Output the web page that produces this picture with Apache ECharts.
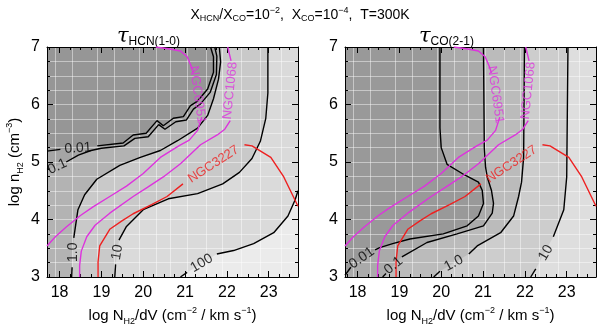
<!DOCTYPE html>
<html>
<head>
<meta charset="utf-8">
<script src="https://cdn.jsdelivr.net/npm/echarts@6/dist/echarts.min.js"></script>
<style>
  html, body { margin: 0; padding: 0; background: #fff; }
  #chart { width: 600px; height: 331px; }
</style>
</head>
<body>
<div id="chart"></div>
<script>
// --- axis extents and ticks ---
const xMin = 17.7, xMax = 23.7, yMin = 3, yMax = 7;
const xTicks = [18, 19, 20, 21, 22, 23];
const xMinorTicks = [17.75, 18.25, 18.5, 18.75, 19.25, 19.5, 19.75, 20.25, 20.5, 20.75,
  21.25, 21.5, 21.75, 22.25, 22.5, 22.75, 23.25, 23.5];
const xGridLines = [17.9, 18.3, 18.9, 19.3, 19.9, 20.3, 20.65, 21.05, 21.5, 21.9, 22.35, 22.8, 23.3];

// --- left panel: tau HCN(1-0) contours (segments split where the label sits) ---
const hcn001 = [
  [[17.7, 5.19], [18.02, 5.22]],
  [[18.9, 5.28], [19.52, 5.33], [19.76, 5.47], [20.07, 5.5], [20.33, 5.72], [20.48, 5.63], [20.72, 5.76],
   [20.96, 5.79], [21.13, 5.98], [21.3, 6.06], [21.54, 6.27], [21.68, 6.56], [21.68, 6.83], [21.61, 7.0]]
];
const hcn01 = [
  [[17.7, 4.87], [17.76, 4.88]],
  [[18.16, 5.0], [18.45, 5.12], [18.75, 5.2], [19.0, 5.24], [19.54, 5.28], [19.8, 5.41], [20.12, 5.44],
   [20.37, 5.65], [20.52, 5.57], [20.78, 5.7], [21.03, 5.73], [21.2, 5.92], [21.37, 6.01], [21.6, 6.21],
   [21.75, 6.52], [21.76, 6.84], [21.71, 7.0]]
];
const hcn1 = [
  [[18.29, 3.0], [18.3, 3.17]],
  [[18.34, 3.68], [18.44, 4.17], [18.6, 4.43], [18.89, 4.7], [19.44, 4.94], [19.93, 5.08], [20.41, 5.2],
   [20.82, 5.37], [21.3, 5.59], [21.54, 5.81], [21.68, 6.1], [21.8, 6.44], [21.85, 6.74], [21.82, 7.0]]
];
const hcn10 = [
  [[19.32, 3.0], [19.34, 3.22]],
  [[19.42, 3.64], [19.6, 3.88], [20.0, 4.17], [20.6, 4.36], [21.3, 4.45], [21.9, 4.62], [22.3, 4.82],
   [22.6, 5.06], [22.8, 5.36], [22.93, 5.76], [22.98, 6.2], [22.98, 7.0]]
];
const hcn100 = [
  [[20.89, 3.0], [21.05, 3.08]],
  [[21.76, 3.4], [22.16, 3.46], [22.64, 3.58], [23.12, 3.77], [23.46, 4.06], [23.63, 4.34], [23.7, 4.5]]
];
const hcnLabels = [[18.44, 5.24, '0.01'], [17.95, 4.92, '0.1'], [18.32, 3.43, '1.0'], [19.38, 3.43, '10'], [21.4, 3.24, '100']];

// --- right panel: tau CO(2-1) contours ---
const co001 = [
  [[17.7, 3.03], [17.84, 3.17]],
  [[18.42, 3.47], [18.53, 3.51], [18.84, 3.58], [19.25, 3.66], [20.05, 3.75], [20.62, 3.89], [20.89, 4.06],
   [21.01, 4.28], [20.98, 4.51], [20.89, 4.65], [20.57, 4.77], [20.14, 4.96], [20.0, 5.25], [19.97, 5.59], [19.97, 7.0]]
];
const co01 = [
  [[18.6, 3.0], [18.68, 3.06]],
  [[19.06, 3.35], [19.66, 3.6], [20.38, 3.75], [21.01, 3.89], [21.22, 4.11], [21.25, 4.28], [21.2, 4.51],
   [21.1, 4.74], [21.06, 4.91], [21.03, 5.25], [21.01, 7.0]]
];
const co1 = [
  [[19.82, 3.0], [19.97, 3.1]],
  [[20.66, 3.4], [20.86, 3.54], [21.42, 3.77], [21.73, 4.06], [21.85, 4.4], [21.92, 4.65], [21.97, 5.08], [21.99, 7.0]]
];
const co10 = [
  [[22.14, 3.0], [22.26, 3.14]],
  [[22.68, 3.7], [22.93, 4.17], [23.0, 4.74], [23.03, 7.0]]
];
const coLabels = [[18.1, 3.33, '0.01'], [18.86, 3.2, '0.1'], [20.3, 3.24, '1.0'], [22.5, 3.42, '10']];

// --- galaxy constraint curves (same in both panels) ---
const ngc6951 = [
  [[20.3, 7.0], [20.6, 6.97], [20.89, 6.93], [21.05, 6.83], [21.15, 6.66], [21.2, 6.55]],
  [[21.4, 5.78], [21.3, 5.55], [21.1, 5.38], [20.85, 5.28], [20.41, 5.08], [20.0, 4.8], [19.6, 4.58],
   [19.2, 4.4], [18.8, 4.22], [18.5, 4.07], [18.16, 3.87], [17.9, 3.7], [17.7, 3.54]]
];
const ngc1068 = [
  [[22.02, 7.0], [22.07, 6.85], [22.1, 6.76]],
  [[22.08, 5.72], [21.95, 5.57], [21.77, 5.47], [21.37, 5.3], [20.89, 4.97], [20.48, 4.74], [20.1, 4.56],
   [19.76, 4.4], [19.2, 4.11], [18.85, 3.9], [18.65, 3.7], [18.52, 3.45], [18.48, 3.2], [18.48, 3.0]]
];
const ngc3227 = [
  [[18.92, 3.0], [18.92, 3.26], [18.96, 3.54], [19.2, 3.83], [19.5, 3.98], [19.76, 4.1], [20.2, 4.26],
   [20.57, 4.4], [20.95, 4.62]],
  [[22.42, 5.3], [22.6, 5.28], [23.05, 5.08], [23.36, 4.74], [23.7, 4.23]]
];
const ngcLabels = [[21.3, 6.17, 'NGC6951'], [22.08, 6.24, 'NGC1068'], [21.68, 4.96, 'NGC3227']];

// --- styles ---
const hcnLabelRot = [4, 25, 90, 80, 30];
const coLabelRot = [35, 40, 28, 60];
const ngcLabelRot = [-82, 84, 33];
const ngcColors = ['#dd33dd', '#dd33dd', '#ee2020'];
const hcnFills = ['#dadada', '#c9c9c9', '#b3b3b3', '#a5a5a5', '#969696'];
const coFills = ['#cdcdcd', '#bbbbbb', '#aaaaaa', '#999999'];
const font = 'Liberation Sans, Arial, sans-serif';

// close a contour into a polygon through the plot corners (low-tau side = upper left)
const corners = [[xMax, yMax], [xMin, yMax], [xMin, yMin], [xMax, yMin]];
function edgeOf(p) {
  const e = 0.03;
  if (Math.abs(p[1] - yMax) < e) return 1;
  if (Math.abs(p[0] - xMin) < e) return 2;
  if (Math.abs(p[1] - yMin) < e) return 3;
  return 0;
}
function closePolygon(pts) {
  const out = pts.slice();
  let e = edgeOf(pts[pts.length - 1]);
  const s = edgeOf(pts[0]);
  while (e !== s) { out.push(corners[e]); e = (e + 1) % 4; }
  return out;
}

const xTitle = '{n|log N}{s|H2}{n|/dV (cm}{p|−2}{n| / km s}{p|−1}{n|)}';
const yTitle = '{n|log n}{s|H2}{n| (cm}{p|−3}{n|)}';
const titleRich = {
  n: { fontSize: 15, fontFamily: font, color: '#000', lineHeight: 20 },
  s: { fontSize: 9, fontFamily: font, color: '#000', verticalAlign: 'bottom', lineHeight: 12 },
  p: { fontSize: 9, fontFamily: font, color: '#000', verticalAlign: 'top', lineHeight: 12 }
};

function xAxes(g) {
  const base = { gridIndex: g, type: 'value', min: xMin, max: xMax, z: 2, axisLabel: { show: false }, splitLine: { show: false } };
  const line = { show: true, onZero: false, lineStyle: { color: '#000', width: 1 } };
  return [
    { ...base, position: 'bottom', axisLine: line,
      axisTick: { show: true, inside: true, length: 6, customValues: xTicks, lineStyle: { color: '#000' } },
      axisLabel: { show: true, customValues: xTicks, margin: 8, fontSize: 16, fontFamily: font, color: '#000' },
      name: xTitle, nameLocation: 'middle', nameGap: 29, nameTextStyle: { rich: titleRich } },
    { ...base, position: 'bottom', axisLine: { show: false, onZero: false },
      axisTick: { show: true, inside: true, length: 3, customValues: xMinorTicks, lineStyle: { color: '#000' } } },
    { ...base, position: 'top', axisLine: line,
      axisTick: { show: true, inside: true, length: 6, customValues: xTicks, lineStyle: { color: '#000' } } },
    { ...base, position: 'top', axisLine: { show: false, onZero: false },
      axisTick: { show: true, inside: true, length: 3, customValues: xMinorTicks, lineStyle: { color: '#000' } } },
    { ...base, position: 'bottom', axisLine: { show: false, onZero: false },
      axisTick: { show: false, customValues: xGridLines },
      splitLine: { show: true, lineStyle: { color: 'rgba(255,255,255,0.45)', width: 1 } } }
  ];
}
function yAxes(g, named) {
  const base = { gridIndex: g, type: 'value', min: yMin, max: yMax, interval: 1, z: 2,
    axisLine: { show: true, onZero: false, lineStyle: { color: '#000', width: 1 } },
    axisTick: { show: true, inside: true, length: 6, lineStyle: { color: '#000' } },
    minorTick: { show: true, splitNumber: 4, length: 3, lineStyle: { color: '#000' } } };
  const left = { ...base, position: 'left',
    axisLabel: { show: true, margin: 7, fontSize: 16, fontFamily: font, color: '#000' },
    splitLine: { show: true, lineStyle: { color: 'rgba(255,255,255,0.45)', width: 1 } },
    minorSplitLine: { show: true, lineStyle: { color: 'rgba(255,255,255,0.45)', width: 1 } } };
  if (named) Object.assign(left, { name: yTitle, nameLocation: 'middle', nameGap: 22, nameRotate: 90, nameTextStyle: { rich: titleRich } });
  return [left, { ...base, position: 'right', axisLabel: { show: false }, splitLine: { show: false } }];
}

function panelSeries(g, contours, fills, labels, labelRot) {
  const xi = g * 5, yi = g * 2;
  const out = [];
  const full = contours.map(c => c.flat());
  out.push({
    type: 'custom', xAxisIndex: xi, yAxisIndex: yi, z: 1, silent: true, clip: true, animation: false,
    data: full.map(p => p[0]),
    renderItem: (params, api) => ({
      type: 'polygon',
      shape: { points: closePolygon(full[params.dataIndex]).map(p => api.coord(p)) },
      style: { fill: fills[params.dataIndex] }
    })
  });
  const lineOf = (seg, color) => ({
    type: 'line', xAxisIndex: xi, yAxisIndex: yi, data: seg, showSymbol: false, symbol: 'none',
    silent: true, animation: false, z: 3, clip: true, lineStyle: { color, width: 1.4 }
  });
  contours.forEach(c => c.forEach(seg => out.push(lineOf(seg, '#000'))));
  [ngc6951, ngc1068, ngc3227].forEach((c, i) => c.forEach(seg => out.push(lineOf(seg, ngcColors[i]))));
  const labelSeries = (list, rots, colors, size) => ({
    type: 'scatter', xAxisIndex: xi, yAxisIndex: yi, symbolSize: 1, z: 4, silent: true, animation: false,
    itemStyle: { color: 'rgba(0,0,0,0)' },
    data: list.map((l, i) => ({
      value: [l[0], l[1]], name: l[2],
      label: { rotate: rots[i], color: colors ? colors[i] : '#000' }
    })),
    label: { show: true, position: 'inside', formatter: '{b}', fontSize: size, fontFamily: font, color: '#000' }
  });
  out.push(labelSeries(labels, labelRot, null, 14));
  out.push(labelSeries(ngcLabels, ngcLabelRot, ngcColors, 13));
  return out;
}

const chart = echarts.init(document.getElementById('chart'), null, { renderer: 'canvas' });
chart.setOption({
  animation: false,
  backgroundColor: '#fff',
  grid: [
    { left: 47, top: 47, width: 251, height: 235, show: true, backgroundColor: '#ebebeb', borderWidth: 0 },
    { left: 345, top: 47, width: 251, height: 235, show: true, backgroundColor: '#dedede', borderWidth: 0 }
  ],
  xAxis: [...xAxes(0), ...xAxes(1)],
  yAxis: [...yAxes(0, true), ...yAxes(1, false)],
  graphic: [
    { type: 'text', x: 300, y: 15, style: {
        text: '{n|X}{s|HCN}{n|/X}{s|CO}{n|=10}{p|−2}{n|,  X}{s|CO}{n|=10}{p|−4}{n|,  T=300K}',
        align: 'center', verticalAlign: 'middle',
        rich: {
          n: { fontSize: 14, fontFamily: font, color: '#000', lineHeight: 17 },
          s: { fontSize: 9, fontFamily: font, color: '#000', verticalAlign: 'bottom', lineHeight: 10 },
          p: { fontSize: 9, fontFamily: font, color: '#000', verticalAlign: 'top', lineHeight: 10 }
        } } },
    { type: 'text', x: 117, y: 37, style: {
        text: '{t|τ}{s|HCN(1-0)}', align: 'left', verticalAlign: 'middle',
        rich: {
          t: { fontSize: 21, fontFamily: 'DejaVu Serif', fontStyle: 'italic', color: '#000', lineHeight: 22 },
          s: { fontSize: 12, fontFamily: font, color: '#000', verticalAlign: 'bottom', lineHeight: 14 }
        } } },
    { type: 'text', x: 419, y: 37, style: {
        text: '{t|τ}{s|CO(2-1)}', align: 'left', verticalAlign: 'middle',
        rich: {
          t: { fontSize: 21, fontFamily: 'DejaVu Serif', fontStyle: 'italic', color: '#000', lineHeight: 22 },
          s: { fontSize: 12, fontFamily: font, color: '#000', verticalAlign: 'bottom', lineHeight: 14 }
        } } }
  ],
  series: [
    ...panelSeries(0, [hcn100, hcn10, hcn1, hcn01, hcn001], hcnFills, hcnLabels, hcnLabelRot),
    ...panelSeries(1, [co10, co1, co01, co001], coFills, coLabels, coLabelRot)
  ]
});
</script>
</body>
</html>
